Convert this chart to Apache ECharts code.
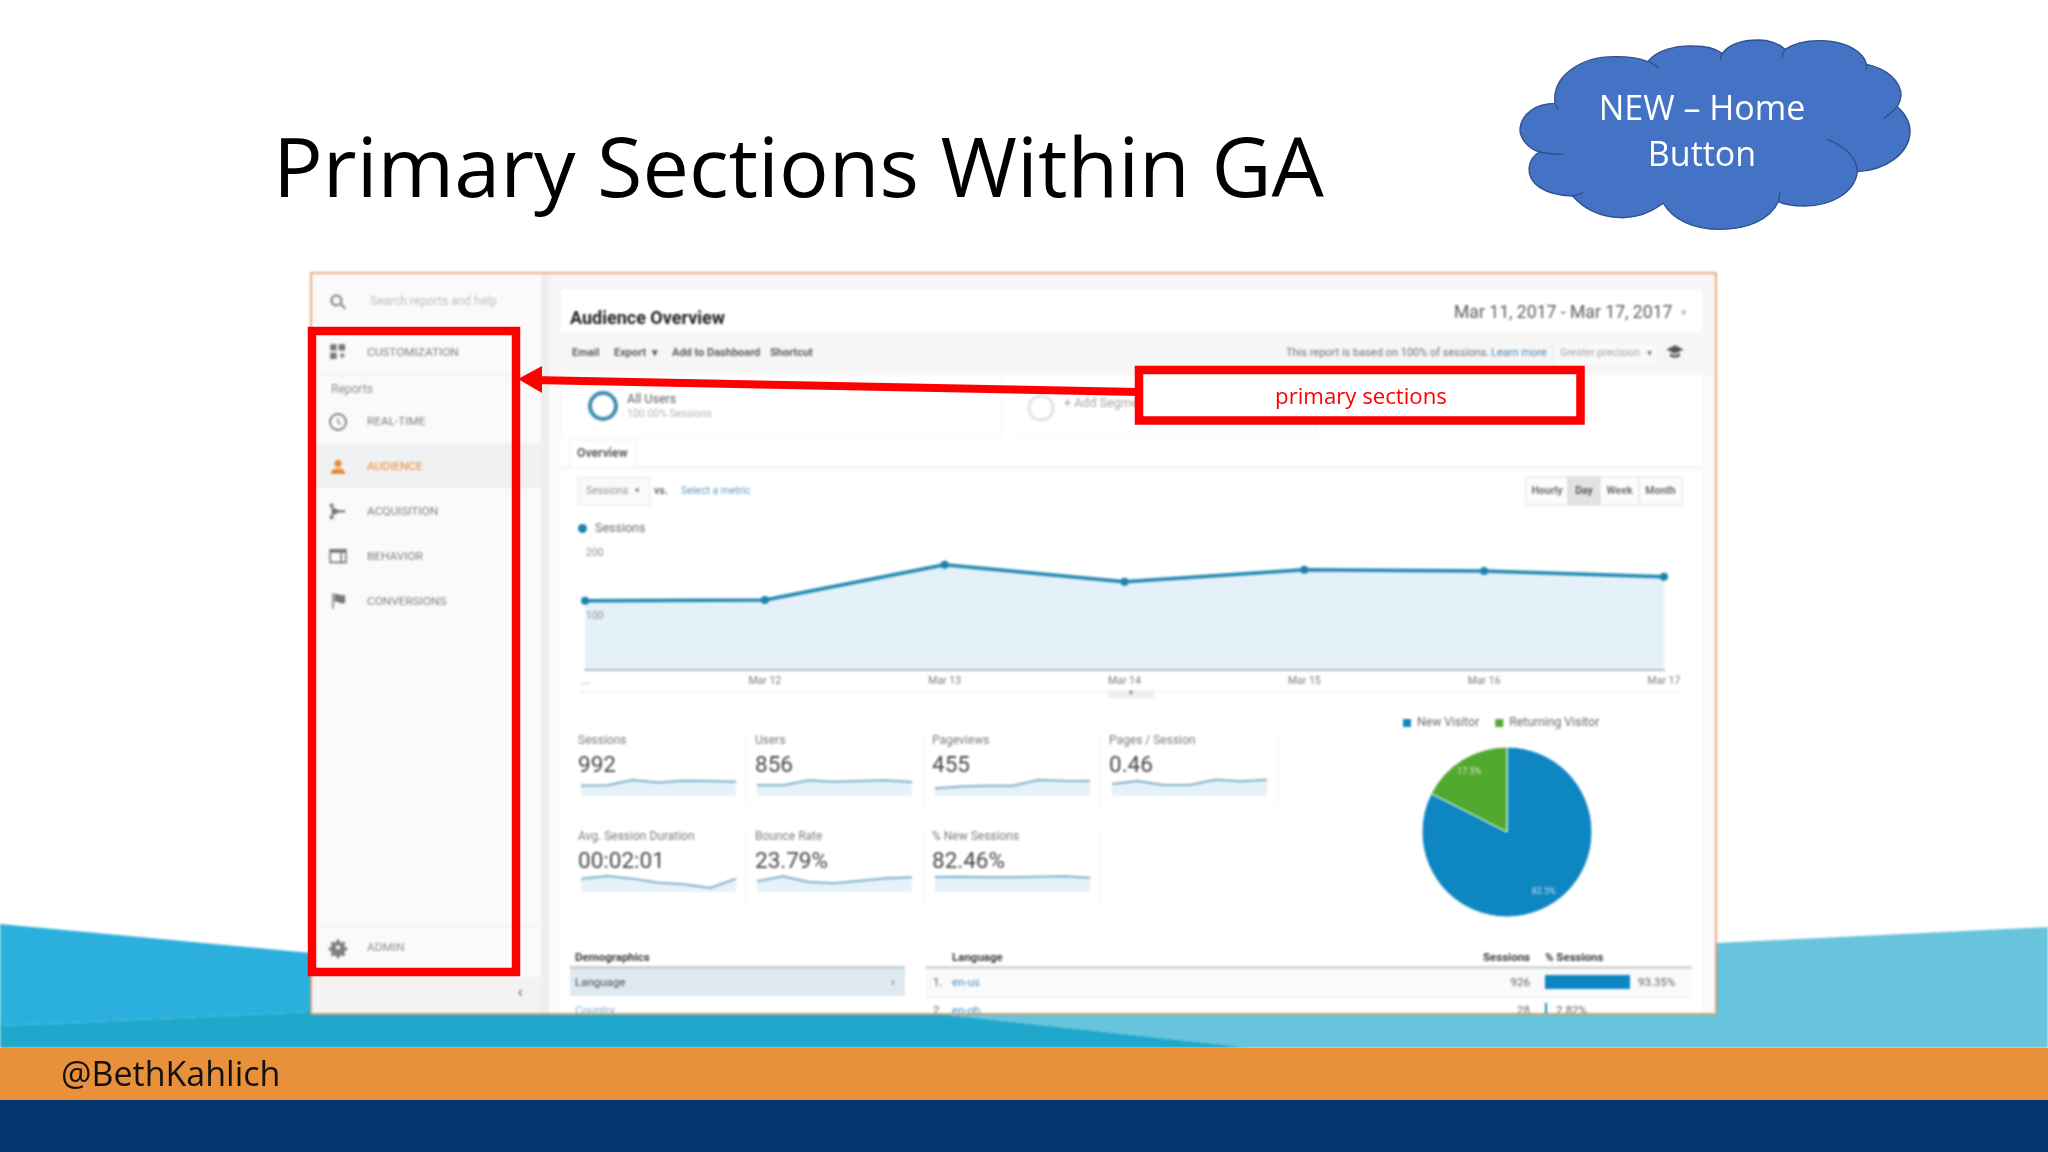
<!DOCTYPE html>
<html>
<head>
<meta charset="utf-8">
<style>
html, body { margin: 0; padding: 0; background: #fff; overflow: hidden; }
.layer { position: absolute; left: 0; top: 0; width: 2048px; height: 1152px; }
#shot { filter: blur(0.8px); }
</style>
<script src="https://cdn.jsdelivr.net/npm/echarts@6/dist/echarts.min.js"></script>
</head>
<body>
<div id="shot" class="layer"></div>
<div id="slide" class="layer"></div>
<script>
const dates = ['...', 'Mar 12', 'Mar 13', 'Mar 14', 'Mar 15', 'Mar 16', 'Mar 17'];
const sessions = [110, 111, 167, 140, 159, 157, 148];

const metricNames = ['Sessions', 'Users', 'Pageviews', 'Pages / Session', 'Avg. Session Duration', 'Bounce Rate', '% New Sessions'];
const metricValues = ['992', '856', '455', '0.46', '00:02:01', '23.79%', '82.46%'];
const sparkSessions = [110, 111, 167, 140, 159, 157, 148];
const sparkUsers = [95, 95, 140, 127, 134, 140, 125];
const sparkPageviews = [42, 51, 56, 56, 87, 82, 81];
const sparkPagesPerSession = [0.40, 0.50, 0.37, 0.37, 0.54, 0.49, 0.54];
const sparkDuration = [147, 176, 147, 102, 85, 44, 147];
const sparkBounce = [21, 31, 19.5, 17, 22, 26.7, 29];
const sparkNewSessions = [82.5, 84, 81, 81, 84, 86, 79];

const visitorNames = ['New Visitor', 'Returning Visitor'];
const visitorShare = [82.46, 17.54];

const sideItems = ['CUSTOMIZATION', 'REAL-TIME', 'AUDIENCE', 'ACQUISITION', 'BEHAVIOR', 'CONVERSIONS', 'ADMIN'];
const rangeButtons = ['Hourly', 'Day', 'Week', 'Month'];

const sparks = [sparkSessions, sparkUsers, sparkPageviews, sparkPagesPerSession, sparkDuration, sparkBounce, sparkNewSessions];
const sparkMax = [250, 214, 130, 0.8, 264, 47, 132];
const sparkLeft = [581, 757, 935, 1112, 581, 757, 935];
const metricLeft = [578, 755, 932, 1109, 578, 755, 932];
const rowTop = [741, 741, 741, 741, 837, 837, 837];

const ui = 'Roboto';
const slideFont = 'Open Sans';

function txt(x, y, text, size, color, extra) {
    return {
        type: 'text', z: 10, x: x, y: y, silent: true,
        style: Object.assign({
            text: text, fontFamily: ui, fontSize: size, fill: color,
            textVerticalAlign: 'middle', textAlign: 'left'
        }, extra || {})
    };
}

function box(x, y, w, h, fill, stroke, z) {
    return {
        type: 'rect', z: z === undefined ? 1 : z, silent: true,
        shape: {x: x, y: y, width: w, height: h},
        style: {fill: fill || 'none', stroke: stroke || 'none', lineWidth: 1}
    };
}

function poly(points, fill, z) {
    return {type: 'polygon', z: z, silent: true, shape: {points: points}, style: {fill: fill}};
}

// the graphic component has no plain path type, so each path gets its own registered shape
let shapeCount = 0;
function pathShape(d) {
    const name = 'svgPath' + (shapeCount++);
    echarts.graphic.registerShape(name, echarts.graphic.extendPath(d, {}));
    return name;
}

// icon paths are drawn in a box of about 24 units
function icon(path, x, y, size, fill) {
    const k = size / 24;
    return {
        type: pathShape(path), z: 10, silent: true,
        x: x - size / 2, y: y - size / 2, scaleX: k, scaleY: k,
        style: {fill: fill}
    };
}

function ring(cx, cy, r, stroke, width) {
    return {
        type: 'circle', z: 10, silent: true,
        shape: {cx: cx, cy: cy, r: r},
        style: {fill: 'none', stroke: stroke, lineWidth: width}
    };
}

// screenshot panel and the background wedges around it
const shotEls = [
    poly([[0, 924], [311, 953], [311, 1012], [0, 1026]], '#2bb0dd', 0),
    box(311, 273, 1405, 741, '#ffffff', null, 0),
    box(311, 273, 230, 741, '#fafafa', null, 0),
    box(311, 977, 230, 37, '#f3f3f4', null, 1),
    box(316, 443, 225, 45, '#f0f1f2', null, 1),
    box(541, 273, 8, 741, '#eeeeee', null, 0),
    box(549, 375, 12, 639, '#fbfbfb', null, 0),
    box(1702, 375, 14, 639, '#fafafa', null, 0),
    box(549, 273, 1167, 102, '#f6f6f6', null, 0),
    box(561, 290, 1141, 42, '#ffffff', null, 1),
    box(316, 375, 225, 1, '#eeeeee', null, 1),
    box(316, 925, 225, 1, '#eeeeee', null, 1),
    poly([[0, 1026], [311, 1012], [311, 1014], [940, 1014], [1254, 1048], [0, 1048]], '#1fa8cc', 20),
    poly([[1716, 943], [2048, 927], [2048, 1048], [1254, 1048], [940, 1014], [1716, 1014]], '#68c3dc', 20),
    {type: 'polyline', z: 21, silent: true, shape: {points: [[311, 1014], [311, 273], [1716, 273], [1716, 1014]]}, style: {fill: 'none', stroke: '#e8935a', lineWidth: 1.5}},
    box(311, 1013, 1405, 2, '#c5a27c', null, 21),

    // sidebar
    icon('M10 2a8 8 0 1 0 5 14l6 6 2-2-6-6A8 8 0 0 0 10 2zm0 3a5 5 0 1 1 0 10 5 5 0 0 1 0-10z', 338, 302, 18, '#8d8d8d'),
    txt(370, 302, 'Search reports and help', 12, '#bdbdbd'),
    icon('M1 1h9v9H1zM13 1h9v9h-9zM1 13h9v9H1zM15 16h2v-3h2v3h3v2h-3v3h-2v-3h-3z', 338, 352, 17, '#777777'),
    txt(331, 390, 'Reports', 12, '#8f8f8f'),
    ring(338, 422, 8, '#808080', 1.8),
    icon('M11 6h2v6l4 2-1 2-5-3z', 338, 422, 15, '#808080'),
    icon('M12 2a5 5 0 1 1 0 10 5 5 0 0 1 0-10zM2 22c0-6 4-8 10-8s10 2 10 8z', 338, 467, 17, '#ea8a33'),
    icon('M3 2l4 2-2 3 8 4h8v3h-8l-8 4 2 3-4 2-2-4 3-2v-9L1 6z', 338, 511, 19, '#777777'),
    icon('M1 3h22v18H1zM3 8v11h12V8zm14 0v11h4V8z', 338, 556, 19, '#777777'),
    icon('M4 1h2v22H4zM7 2h5l3 2h7v11h-7l-3-2H7z', 338, 601, 17, '#777777'),
    icon('M10 0h4l1 4 3 1 3-2 3 3-2 3 1 3 4 1v4l-4 1-1 3 2 3-3 3-3-2-3 1-1 4h-4l-1-4-3-1-3 2-3-3 2-3-1-3-4-1v-4l4-1 1-3-2-3 3-3 3 2 3-1zM12 9a3 3 0 1 0 0 7 3 3 0 0 0 0-7z', 338, 947, 15, '#808080'),
    txt(520, 993, '‹', 17, '#666666', {textAlign: 'center'}),

    // header and toolbar
    txt(570, 319, 'Audience Overview', 18, '#222222', {fontWeight: 'bold'}),
    txt(1454, 314, 'Mar 11, 2017 - Mar 17, 2017', 17.6, '#5c5c5c'),
    txt(1684, 313, '▾', 11, '#b5b5b5', {textAlign: 'center'}),
    txt(572, 353, 'Email', 11, '#606060', {fontWeight: 'bold'}),
    txt(614, 353, 'Export  ▾', 11, '#606060', {fontWeight: 'bold'}),
    txt(672, 353, 'Add to Dashboard', 11, '#606060', {fontWeight: 'bold'}),
    txt(770, 353, 'Shortcut', 11, '#606060', {fontWeight: 'bold'}),
    txt(1286, 353, 'This report is based on 100% of sessions.', 11, '#707070'),
    txt(1491, 353, 'Learn more', 11, '#4d86b0'),
    box(1554, 342, 104, 24, '#f9f9f9', '#eeeeee', 1),
    txt(1560, 353, 'Greater precision', 10.5, '#a5a5a5'),
    txt(1649, 353, '▾', 10, '#808080', {textAlign: 'center'}),
    icon('M12 4L0 10l12 6 12-6zM5 15v4c3 3 11 3 14 0v-4l-7 3.5z', 1675, 351, 17, '#555555'),

    // segments
    ring(603, 406, 13, '#3f8fb0', 4),
    txt(627, 400, 'All Users', 12.5, '#5f5f5f'),
    txt(627, 414, '100.00% Sessions', 10.5, '#b5b5b5'),
    box(561, 375, 440, 62, 'none', '#f6f6f6', 1),
    box(1016, 375, 300, 62, 'none', '#f6f6f6', 1),
    ring(1041, 408, 12, '#e3e3e3', 3),
    txt(1064, 404, '+ Add Segment', 12.5, '#a5a5a5'),

    // overview tab and controls
    box(561, 467, 1141, 1, '#e4e4e4', null, 1),
    box(570, 440, 66, 28, '#ffffff', '#eeeeee', 1),
    txt(577, 454, 'Overview', 12.2, '#606060', {fontWeight: 'bold'}),
    box(578, 477, 72, 28, '#fafafa', '#e8e8e8', 1),
    txt(586, 491, 'Sessions', 10.5, '#939393'),
    txt(635, 491, '▾', 9, '#808080'),
    txt(654, 491, 'vs.', 10.5, '#707070', {fontWeight: 'bold'}),
    txt(681, 491, 'Select a metric', 10.5, '#5f9cc6'),

    // range buttons
    box(1526, 477, 42, 28, '#fcfcfc', '#e0e0e0', 1),
    box(1568, 477, 32, 28, '#e2e2e2', '#d8d8d8', 1),
    box(1600, 477, 39, 28, '#fcfcfc', '#e0e0e0', 1),
    box(1639, 477, 43, 28, '#fcfcfc', '#e0e0e0', 1),
    txt(1547, 491, rangeButtons[0], 10.5, '#707070', {textAlign: 'center', fontWeight: 'bold'}),
    txt(1584, 491, rangeButtons[1], 10.5, '#606060', {textAlign: 'center', fontWeight: 'bold'}),
    txt(1619.5, 491, rangeButtons[2], 10.5, '#707070', {textAlign: 'center', fontWeight: 'bold'}),
    txt(1660.5, 491, rangeButtons[3], 10.5, '#707070', {textAlign: 'center', fontWeight: 'bold'}),

    // chart drag handle
    box(580, 691, 1102, 1, '#e8e8e8', null, 1),
    box(1108, 690, 46, 8, '#eeeeee', null, 1),
    txt(1131, 693, '▾', 8, '#808080', {textAlign: 'center'}),

    // demographics table
    txt(575, 958, 'Demographics', 11.5, '#3c3c3c', {fontWeight: 'bold'}),
    txt(952, 958, 'Language', 11.5, '#3c3c3c', {fontWeight: 'bold'}),
    txt(1530, 958, 'Sessions', 11.5, '#3c3c3c', {fontWeight: 'bold', textAlign: 'right'}),
    txt(1545, 958, '% Sessions', 11.5, '#3c3c3c', {fontWeight: 'bold'}),
    box(570, 966, 335, 3, '#c6d0d4', null, 1),
    box(926, 966, 766, 3, '#d4d6d8', null, 1),
    box(570, 969, 335, 27, '#deeaf0', null, 1),
    box(926, 969, 766, 28, '#fafafa', null, 1),
    box(926, 997, 766, 1, '#eeeeee', null, 1),
    txt(575, 983, 'Language', 11.5, '#4c4c4c'),
    txt(893, 983, '›', 12, '#606060', {textAlign: 'center'}),
    txt(933, 983, '1.', 11.5, '#606060'),
    txt(952, 983, 'en-us', 11.5, '#4f95c2'),
    txt(1530, 983, '926', 11.5, '#606060', {textAlign: 'right'}),
    box(1545, 975, 85, 14, '#0e86c4', null, 1),
    txt(1638, 983, '93.35%', 11.5, '#606060'),
    txt(575, 1011, 'Country', 11.5, '#7aaecb'),
    txt(933, 1011, '2.', 11.5, '#606060'),
    txt(952, 1011, 'en-gb', 11.5, '#4f95c2'),
    txt(1530, 1011, '28', 11.5, '#606060', {textAlign: 'right'}),
    box(1545, 1003, 2, 11, '#0e86c4', null, 1),
    txt(1556, 1011, '2.82%', 11.5, '#606060')
];

sideItems.forEach((label, i) => {
    const y = [353, 422, 467, 512, 557, 602, 948][i];
    const color = label === 'AUDIENCE' ? '#ea8a33' : (label === 'ADMIN' ? '#909090' : '#808080');
    shotEls.push(txt(367, y, label, 11.8, color));
});

// dividers between the metric cells
[746, 923, 1100, 1277].forEach(x => shotEls.push(box(x, 735, 1, 70, '#f0f0f0', null, 1)));
[746, 923, 1100].forEach(x => shotEls.push(box(x, 830, 1, 72, '#f0f0f0', null, 1)));

metricNames.forEach((name, i) => {
    shotEls.push(txt(metricLeft[i], rowTop[i], name, 12, '#7c7c7c'));
    shotEls.push(txt(metricLeft[i], rowTop[i] + 25.5, metricValues[i], 22.5, '#484848'));
});

const grids = [{left: 585, right: 2048 - 1664, top: 544, height: 126}];
const xAxes = [{
    type: 'category', data: dates, boundaryGap: false, gridIndex: 0, z: 3,
    axisLine: {lineStyle: {color: '#b9bdbf', width: 2}},
    axisTick: {show: false},
    axisLabel: {interval: 0, margin: 6, fontFamily: ui, fontSize: 10.5, color: '#7c7c7c'}
}];
const yAxes = [{
    type: 'value', min: 0, max: 200, interval: 100, gridIndex: 0, z: 3,
    axisLine: {show: false}, axisTick: {show: false},
    splitLine: {lineStyle: {color: '#f7f7f7'}},
    axisLabel: {
        inside: true, margin: 1, verticalAlign: 'top', padding: [4, 0, 0, 0],
        showMinLabel: false, fontFamily: ui, fontSize: 10.5, color: '#909090'
    }
}];
const seriesList = [{
    name: 'Sessions', type: 'line', data: sessions, xAxisIndex: 0, yAxisIndex: 0,
    symbol: 'circle', symbolSize: 8, showSymbol: true,
    itemStyle: {color: '#1b82ad'},
    lineStyle: {color: '#2088b2', width: 3.5},
    areaStyle: {color: '#e4f1f8', opacity: 1}
}];

sparks.forEach((values, i) => {
    const idx = i + 1;
    grids.push({left: sparkLeft[i], width: 155, top: i < 4 ? 772 : 868, height: 24});
    xAxes.push({type: 'category', show: false, boundaryGap: false, gridIndex: idx, data: dates});
    yAxes.push({type: 'value', show: false, min: 0, max: sparkMax[i], gridIndex: idx});
    seriesList.push({
        type: 'line', data: values, xAxisIndex: idx, yAxisIndex: idx, symbol: 'none',
        lineStyle: {color: '#7fb0cd', width: 2},
        areaStyle: {color: '#e6f2f8', opacity: 1}
    });
});

seriesList.push({
    name: 'Visitors', type: 'pie', center: [1507, 832], radius: [0, 85], startAngle: 90,
    clockwise: true, animation: false,
    data: visitorNames.map((n, i) => ({name: n, value: visitorShare[i]})),
    itemStyle: {borderColor: '#ffffff', borderWidth: 1},
    color: ['#0d86c2', '#51a92f'],
    label: {
        position: 'inside', fontFamily: ui, fontSize: 9, color: 'rgba(255,255,255,0.75)',
        formatter: p => p.value.toFixed(1) + '%'
    },
    labelLine: {show: false},
    labelLayout: p => (p.dataIndex === 0 ? {dx: 13, dy: 21} : {dx: -14, dy: -21})
});

const shotChart = echarts.init(document.getElementById('shot'));
shotChart.setOption({
    animation: false,
    backgroundColor: 'transparent',
    legend: [
        {
            data: ['Sessions'], left: 573, top: 517, icon: 'circle', itemWidth: 9, itemHeight: 9, itemGap: 6,
            textStyle: {fontFamily: ui, fontSize: 12.5, color: '#6c6c6c', padding: [0, 0, 0, 3]}
        },
        {
            data: visitorNames, left: 1396, top: 712, icon: 'rect', itemWidth: 10, itemHeight: 10, itemGap: 14,
            textStyle: {fontFamily: ui, fontSize: 12.2, color: '#6c6c6c'}
        }
    ],
    grid: grids,
    xAxis: xAxes,
    yAxis: yAxes,
    series: seriesList,
    graphic: {elements: shotEls}
});

// sharp slide elements on top of the screenshot
const cloudOutline = 'M225 250C215 170 300 108 410 110C450 110 480 115 503 125C530 90 590 75 640 78C680 78 710 88 727 100' +
    'C750 70 790 60 835 60C870 60 895 70 915 88C945 68 985 60 1030 62C1100 65 1150 95 1160 133' +
    'C1220 145 1265 185 1263 228C1262 240 1258 250 1252 260C1280 285 1292 310 1290 340C1285 400 1220 450 1132 455' +
    'C1125 520 1050 558 975 558C945 558 915 555 895 545C870 600 800 628 720 628C640 628 580 600 550 550' +
    'C510 580 470 595 420 593C360 590 310 565 278 528C190 525 145 490 147 445C148 425 160 405 178 396' +
    'C140 385 118 350 120 325C125 280 170 250 225 250Z';
const cloudFolds = 'M503 125Q525 132 535 145M727 100Q722 110 720 122M915 88Q908 98 905 112M1160 133Q1161 140 1158 148' +
    'M1252 260Q1235 280 1212 295M1132 455Q1130 395 1042 358M895 545Q899 530 900 515M278 528Q295 526 310 517' +
    'M178 396Q210 403 250 403M225 250Q228 260 237 268';

function cloudPath(d, fill) {
    return {
        type: pathShape(d), z: 5, silent: true, x: 1480, y: 20, scaleX: 1 / 3, scaleY: 1 / 3,
        style: {fill: fill, stroke: '#2f528f', lineWidth: 4}
    };
}

const redStroke = 8.5;
const leftFrame = box(312, 331, 204, 641, 'none', '#ff0000', 6);
leftFrame.style.lineWidth = redStroke;
const calloutFrame = box(1139, 370, 441.5, 50.5, '#ffffff', '#ff0000', 7);
calloutFrame.style.lineWidth = redStroke;

const slideChart = echarts.init(document.getElementById('slide'));
slideChart.setOption({
    animation: false,
    backgroundColor: 'transparent',
    graphic: {elements: [
        box(0, 1048, 2048, 52, '#e8903a', null, 1),
        box(0, 1100, 2048, 52, '#03356f', null, 1),
        txt(61, 1076, '@BethKahlich', 34, '#111111', {fontFamily: slideFont}),
        txt(273, 173, 'Primary Sections Within GA', 82.8, '#000000', {fontFamily: slideFont}),
        cloudPath(cloudOutline, '#4472c4'),
        cloudPath(cloudFolds, 'none'),
        txt(1702, 110, 'NEW – Home', 34, '#ffffff', {fontFamily: slideFont, textAlign: 'center'}),
        txt(1702, 156, 'Button', 34, '#ffffff', {fontFamily: slideFont, textAlign: 'center'}),
        leftFrame,
        {type: 'line', z: 6, silent: true, shape: {x1: 532, y1: 380, x2: 1139, y2: 392}, style: {stroke: '#ff0000', lineWidth: 8}},
        poly([[518, 379], [542, 366], [542, 393]], '#ff0000', 6),
        calloutFrame,
        txt(1361, 398, 'primary sections', 22.2, '#ff0000', {fontFamily: slideFont, textAlign: 'center'})
    ]}
});
</script>
</body>
</html>
